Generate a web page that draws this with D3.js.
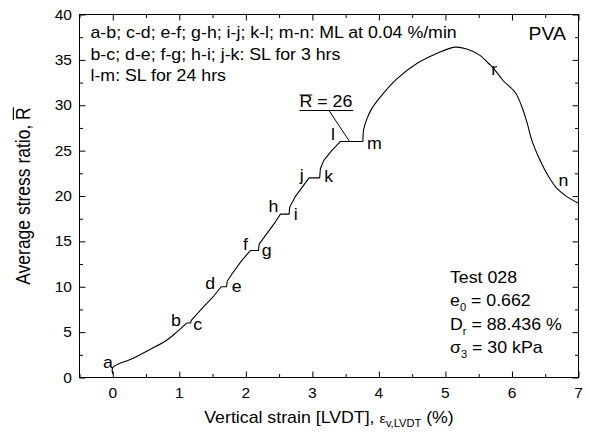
<!DOCTYPE html>
<html><head><meta charset="utf-8">
<script src="https://cdn.jsdelivr.net/npm/d3@7"></script>
<style>
html,body{margin:0;padding:0;background:#fff;}
svg{display:block;}
text{font-family:"Liberation Sans", Arial, Helvetica, sans-serif; fill:#000;}
</style></head><body>
<svg id="chart" width="589" height="434"></svg>
<script>
// Vertical strain (%) and average stress ratio recorded through the test
const strain = [0, 0, 0.3, 0.55, 0.81, 0.96, 1.11, 1.17, 1.18, 1.36, 1.51, 1.63, 1.71, 1.72, 1.81, 1.94, 2.07,
  2.19, 2.20, 2.31, 2.44, 2.52, 2.65, 2.66, 2.74, 2.84, 2.95, 3.11, 3.12, 3.17, 3.29, 3.42, 3.76, 3.77,
  3.82, 3.89, 4.02, 4.27, 4.57, 4.87, 5.14, 5.32, 5.52, 5.65, 5.72, 5.87, 6.05, 6.15, 6.23, 6.30, 6.40,
  6.53, 6.68, 6.83, 7.0];
const stressRatio = [0.4, 1.1, 2.1, 3.05, 4.1, 5.0, 6, 6, 6.3, 7.75, 8.9, 10, 10, 10.6, 11.6, 12.9, 14,
  14, 14.7, 15.8, 17.1, 18, 18, 18.8, 19.9, 20.9, 22, 22, 23.0, 23.9, 25.0, 26, 26, 27.3,
  28.5, 29.6, 30.9, 32.9, 34.6, 35.7, 36.4, 36.2, 35.5, 34.6, 34.1, 32.7, 31.4, 29.8, 28.0, 26.1, 24.3,
  22.4, 20.8, 19.9, 19.2];

// Stage letters along the curve (strain, stress ratio of the letter's baseline start)
const stageLetters = ["a", "b", "c", "d", "e", "f", "g", "h", "i", "j", "k", "l", "m", "n", "r"];
const stageX = [-0.145, 0.877, 1.208, 1.389, 1.79, 1.956, 2.24, 2.34, 2.72, 2.81, 3.18, 3.28, 3.82, 6.70, 5.69];
const stageY = [1.1, 5.73, 5.18, 9.7, 9.37, 14.07, 13.44, 18.2, 17.38, 21.63, 21.52, 26.19, 25.2, 21.05, 33.28];

const xTicks = [0, 1, 2, 3, 4, 5, 6, 7];
const xMinorTicks = [-0.5, 0.5, 1.5, 2.5, 3.5, 4.5, 5.5, 6.5];
const yTicks = [0, 5, 10, 15, 20, 25, 30, 35, 40];
const yMinorTicks = [2.5, 7.5, 12.5, 17.5, 22.5, 27.5, 32.5, 37.5];

const legendLines = [
  "a-b; c-d; e-f; g-h; i-j; k-l; m-n: ML at 0.04 %/min",
  "b-c; d-e; f-g; h-i; j-k: SL for 3 hrs",
  "l-m: SL for 24 hrs"
];
const plateauValue = 26;

const SX = 1.11; // horizontal text stretch
const svg = d3.select("#chart");
const pL = 79.5, pR = 578.5, pT = 14.5, pB = 377.5;

const x = d3.scaleLinear().domain([-0.5, 7]).range([pL, pR]);
const y = d3.scaleLinear().domain([0, 40]).range([pB, pT]);

function putText(parent, px, py, str, size, anchor) {
  return parent.append("text")
    .attr("transform", `translate(${px},${py}) scale(${SX},1)`)
    .attr("font-size", size)
    .attr("text-anchor", anchor || "start")
    .text(str);
}

// axes: ticks pointing inward on all four sides
function axisPair(axisFn, scale, major, minor, pos) {
  const g = svg.append("g").attr("transform", pos);
  g.append("g").call(axisFn(scale).tickValues(major).tickSize(-6).tickSizeOuter(0).tickFormat(""));
  g.append("g").call(axisFn(scale).tickValues(minor).tickSize(-3.5).tickSizeOuter(0).tickFormat(""));
  g.selectAll(".domain").remove();
  g.selectAll("line").attr("stroke", "#000").attr("stroke-width", 1);
}
axisPair(d3.axisBottom, x, xTicks, xMinorTicks, `translate(0,${pB})`);
axisPair(d3.axisTop, x, xTicks, xMinorTicks, `translate(0,${pT})`);
axisPair(d3.axisLeft, y, yTicks, yMinorTicks, `translate(${pL},0)`);
axisPair(d3.axisRight, y, yTicks, yMinorTicks, `translate(${pR},0)`);

svg.append("rect").attr("x", pL).attr("y", pT)
  .attr("width", pR - pL).attr("height", pB - pT)
  .attr("fill", "none").attr("stroke", "#000").attr("stroke-width", 1);

// tick labels
xTicks.forEach(v => putText(svg, x(v), 398, String(v), 14, "middle"));
yTicks.forEach(v => putText(svg, 72, y(v) + 5, String(v), 14, "end"));

// stress-ratio curve: smooth loading branches, crisp hold steps
const pts = strain.map((s, i) => [s, stressRatio[i]]);
const smooth = d3.line().curve(d3.curveCatmullRom.alpha(0.5)).x(d => x(d[0])).y(d => y(d[1]));
const straight = d3.line().x(d => x(d[0])).y(d => y(d[1]));
const holdStart = 6, finalStart = 32;
[[pts.slice(0, holdStart + 1), smooth],
 [pts.slice(holdStart, finalStart + 1), straight],
 [pts.slice(finalStart), smooth]].forEach(([seg, gen]) => {
  svg.append("path")
    .datum(seg)
    .attr("fill", "none").attr("stroke", "#000").attr("stroke-width", 1.1)
    .attr("stroke-linejoin", "round")
    .attr("d", gen);
});

// stage letters
stageLetters.forEach((t, i) => putText(svg, x(stageX[i]), y(stageY[i]), t, 16));

// legend text
legendLines.forEach((t, i) => putText(svg, 90.5, 38 + i * 21.5, t, 16));

// material tag
putText(svg, 566, 40, "PVA", 17.5, "end");

// specimen info
const info = svg.append("g");
putText(info, 450, 283, "Test 028", 16);
function subLine(py, main, sub, rest) {
  const t = info.append("text")
    .attr("transform", `translate(450,${py}) scale(${SX},1)`)
    .attr("font-size", 16);
  t.append("tspan").text(main);
  t.append("tspan").attr("font-size", 10).attr("dy", 5).text(sub);
  t.append("tspan").attr("dy", -5).text(rest);
}
subLine(306, "e", "0", " = 0.662");
subLine(329.5, "D", "r", " = 88.436 %");
subLine(352.5, "\u03C3", "3", " = 30 kPa");

// plateau annotation: R-bar = 26 with leader to the l-m hold
const ann = svg.append("text")
  .attr("transform", `translate(299.5,107) scale(${SX},1)`)
  .attr("font-size", 16)
  .text(`R = ${plateauValue}`);
const rExt = ann.node().getExtentOfChar(0);
const annW = ann.node().getComputedTextLength();
svg.append("line")
  .attr("x1", 299.5 + rExt.x * SX).attr("x2", 299.5 + (rExt.x + rExt.width) * SX)
  .attr("y1", 95).attr("y2", 95).attr("stroke", "#000").attr("stroke-width", 1);
svg.append("line")
  .attr("x1", 299.5).attr("x2", 299.5 + annW * SX + 1)
  .attr("y1", 110.5).attr("y2", 110.5).attr("stroke", "#000").attr("stroke-width", 1.2);
svg.append("line")
  .attr("x1", 329).attr("y1", 110.5)
  .attr("x2", x(3.56)).attr("y2", y(plateauValue))
  .attr("stroke", "#000").attr("stroke-width", 1);

// x axis title
const xt = svg.append("text")
  .attr("transform", `translate(${(pL + pR) / 2},423) scale(${SX},1)`)
  .attr("font-size", 16).attr("text-anchor", "middle");
xt.append("tspan").text("Vertical strain [LVDT], ");
xt.append("tspan").attr("font-size", 13).text("\u03B5");
xt.append("tspan").attr("font-size", 10).attr("dy", 4).text("v,LVDT");
xt.append("tspan").attr("dy", -4).text(" (%)");

// y axis title with overlined R
const yg = svg.append("g")
  .attr("transform", `translate(30,${(pT + pB) / 2}) rotate(-90) scale(1,${SX})`);
const yt = yg.append("text").attr("font-size", 17.5).attr("text-anchor", "middle")
  .text("Average stress ratio, R");
const nChars = yt.node().getNumberOfChars();
const rBox = yt.node().getExtentOfChar(nChars - 1);
yg.append("line")
  .attr("x1", rBox.x).attr("x2", rBox.x + rBox.width)
  .attr("y1", -15).attr("y2", -15)
  .attr("stroke", "#000").attr("stroke-width", 1);
</script>
</body></html>
